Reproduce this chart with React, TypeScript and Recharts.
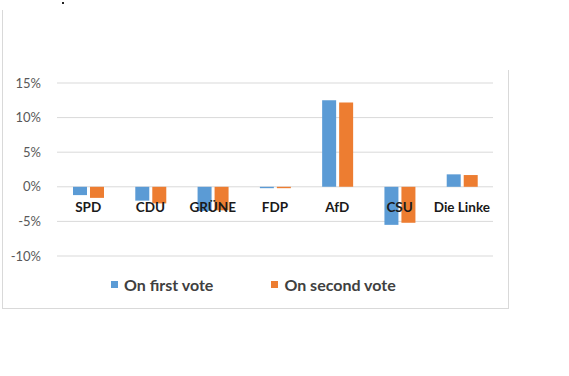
import { BarChart, Bar, XAxis, YAxis, CartesianGrid } from 'recharts';

const parties = ['SPD', 'CDU', 'GRÜNE', 'FDP', 'AfD', 'CSU', 'Die Linke'];
const firstVote = [-1.2, -2.0, -3.5, -0.2, 12.5, -5.5, 1.8];
const secondVote = [-1.6, -2.4, -3.4, -0.2, 12.2, -5.2, 1.7];
const yTicks = [-10, -5, 0, 5, 10, 15];

const SERIES = [
  { key: 'first', name: 'On first vote', color: '#5b9bd5' },
  { key: 'second', name: 'On second vote', color: '#ed7d31' },
];

const W = 569;
const H = 376;
const TOP = 83;
const BOTTOM = 256;
const Y_MIN = -10;
const Y_MAX = 15;
const ZERO_Y = TOP + ((Y_MAX - 0) / (Y_MAX - Y_MIN)) * (BOTTOM - TOP);
const FONT = 'Lato, "Open Sans", sans-serif';

const data = parties.map((p, i) => ({ name: p, first: firstVote[i], second: secondVote[i] }));

// Excel puts the category labels right under the zero line
function PartyTick(props: any) {
  const { x, payload } = props;
  return (
    <text x={x} y={ZERO_Y + 25} textAnchor="middle" fontFamily={FONT} fontSize={13.5} fontWeight={700} fill="#1a1a1a">
      {payload.value}
    </text>
  );
}

export default function App() {
  const line = '#d9d9d9';
  return (
    <div style={{ position: 'absolute', left: 0, top: 0, width: W, height: H, background: '#fff' }}>
      <div style={{ position: 'absolute', left: 62, top: 2, width: 2, height: 2, background: '#222' }} />
      <div style={{ position: 'absolute', left: 2, top: 10, width: 1, height: 298, background: line }} />
      <div style={{ position: 'absolute', left: 508, top: 70, width: 1, height: 238, background: line }} />
      <div style={{ position: 'absolute', left: 2, top: 308, width: 507, height: 1, background: line }} />

      <BarChart
        width={W}
        height={H}
        data={data}
        margin={{ top: TOP, right: W - 493, left: 0, bottom: H - BOTTOM - 20 }}
        barSize={14}
        barGap={3}
      >
        <CartesianGrid vertical={false} stroke={line} strokeWidth={1} />
        <XAxis dataKey="name" axisLine={false} tickLine={false} height={20} tick={<PartyTick />} interval={0} />
        <YAxis
          width={57}
          domain={[Y_MIN, Y_MAX]}
          ticks={yTicks}
          axisLine={false}
          tickLine={false}
          tickFormatter={(v) => `${v}%`}
          tick={{ fill: '#595959', fontSize: 13, fontFamily: FONT }}
          tickMargin={10}
        />
        {SERIES.map((s) => (
          <Bar key={s.key} dataKey={s.key} name={s.name} fill={s.color} isAnimationActive={false} />
        ))}
      </BarChart>

      <div style={{ position: 'absolute', left: 111, top: 275, display: 'flex', fontFamily: FONT, fontWeight: 700, fontSize: 16, color: '#404040' }}>
        {SERIES.map((s, i) => (
          <div key={s.key} style={{ display: 'flex', alignItems: 'center', marginRight: i === 0 ? 58 : 0 }}>
            <span style={{ width: 7, height: 7, background: s.color, marginRight: 6, display: 'inline-block' }} />
            <span>{s.name}</span>
          </div>
        ))}
      </div>
    </div>
  );
}
